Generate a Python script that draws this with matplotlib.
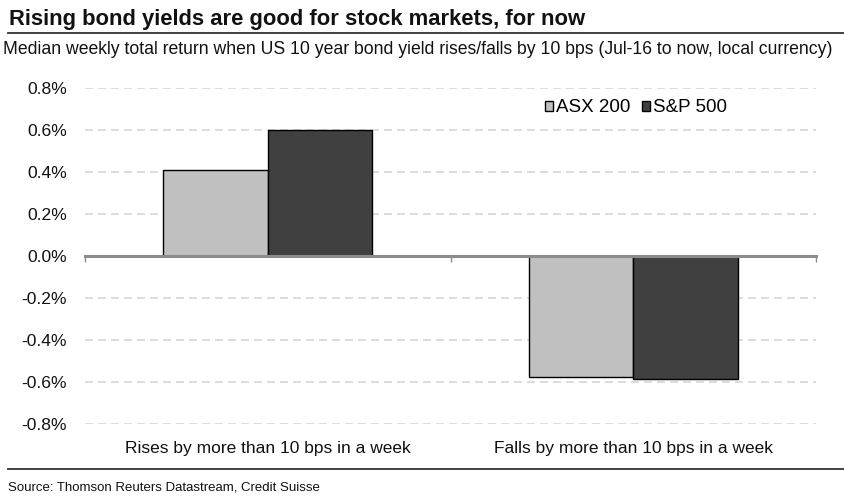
import matplotlib
matplotlib.use("Agg")
import matplotlib.pyplot as plt
from matplotlib.lines import Line2D
from matplotlib.ticker import FuncFormatter, FixedLocator

plt.rcParams['font.family'] = ['Liberation Sans', 'DejaVu Sans']

categories = ["Rises by more than 10 bps in a week", "Falls by more than 10 bps in a week"]
series_names = ["ASX 200", "S&P 500"]
asx = [0.41, -0.575]
spx = [0.60, -0.585]
y_ticks = [-0.8, -0.6, -0.4, -0.2, 0.0, 0.2, 0.4, 0.6, 0.8]

W, H = 844, 500
fig = plt.figure(figsize=(W / 100, H / 100), dpi=100)
ax = fig.add_axes([85 / W, 1 - 424 / H, (816 - 85) / W, (424 - 88) / H])

x = list(range(len(categories)))
bw = 0.286
ax.bar([i - bw / 2 for i in x], asx, width=bw, color='#C0C0C0', edgecolor='black', linewidth=1.0, label=series_names[0], zorder=3)
ax.bar([i + bw / 2 for i in x], spx, width=bw, color='#404040', edgecolor='black', linewidth=1.0, label=series_names[1], zorder=3)

ax.set_xlim(-0.5, len(categories) - 0.5)
ax.set_ylim(-0.8, 0.8)
ax.set_yticks(y_ticks)
ax.yaxis.set_major_formatter(FuncFormatter(lambda v, p: f"{v:.1f}%"))
ax.tick_params(axis='y', length=0, pad=13, labelsize=12.6, colors='#111111')
for yv in y_ticks:
    if yv != 0:
        ax.axhline(yv, color='#D9D9D9', lw=1.3, ls=(0, (4.4, 2.8)), zorder=1)

for s in ['left', 'right', 'top']:
    ax.spines[s].set_visible(False)
ax.spines['bottom'].set_position(('data', 0))
ax.spines['bottom'].set_color('#8C8C8C')
ax.spines['bottom'].set_linewidth(2.2)
ax.spines['bottom'].set_zorder(4)
ax.set_xticks([])
ax.xaxis.set_minor_locator(FixedLocator([-0.5, 0.5, 1.5]))
ax.tick_params(axis='x', which='minor', direction='out', length=4, width=1, color='#8C8C8C')

sec = ax.secondary_xaxis(0.0)
sec.set_xticks(x)
sec.set_xticklabels(categories)
sec.tick_params(length=0, pad=12, labelsize=12.5, colors='#111111')
sec.spines['bottom'].set_visible(False)

leg = ax.legend(loc='center left', bbox_to_anchor=(545 / W, 1 - 108 / H), bbox_transform=fig.transFigure,
                ncol=2, frameon=False, fontsize=13.5, handlelength=0.42, handleheight=0.5,
                handletextpad=0.18, columnspacing=0.6, borderaxespad=0, borderpad=0)

fig.text(9 / W, 1 - 19 / H, "Rising bond yields are good for stock markets, for now",
         fontsize=15.8, fontweight='bold', va='center', ha='left', color='#111111')
fig.add_artist(Line2D([8 / W, 1.0], [1 - 33 / H, 1 - 33 / H], color='#333333', lw=1.3, transform=fig.transFigure))
fig.text(3 / W, 1 - 50 / H, "Median weekly total return when US 10 year bond yield rises/falls by 10 bps (Jul-16 to now, local currency)",
         fontsize=12.7, va='center', ha='left', color='#111111')
fig.add_artist(Line2D([8 / W, 1.0], [1 - 469 / H, 1 - 469 / H], color='#333333', lw=1.3, transform=fig.transFigure))
fig.text(8 / W, 1 - 487 / H, "Source: Thomson Reuters Datastream, Credit Suisse",
         fontsize=9.5, va='center', ha='left', color='#111111')

fig.savefig("out.png", dpi=100)
